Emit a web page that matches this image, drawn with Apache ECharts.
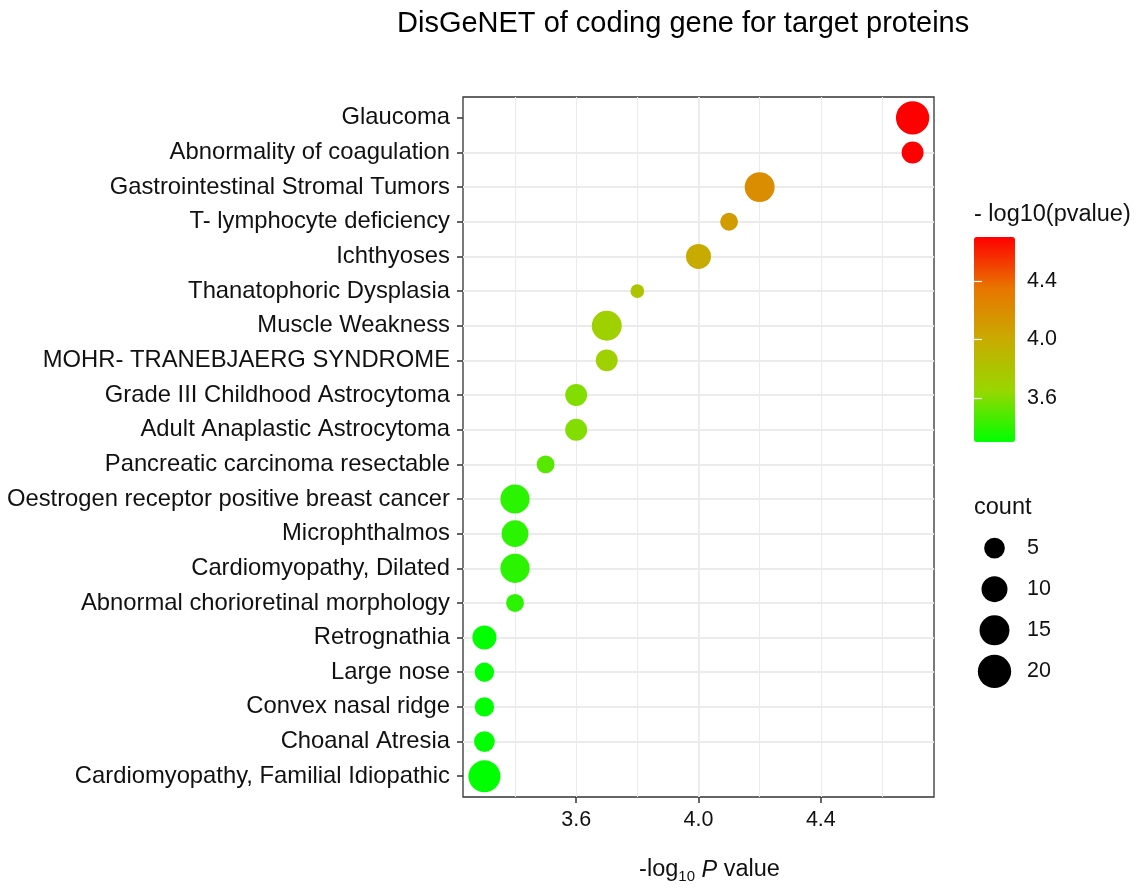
<!DOCTYPE html>
<html>
<head>
<meta charset="utf-8">
<title>DisGeNET of coding gene for target proteins</title>
<script src="https://cdn.jsdelivr.net/npm/echarts@6/dist/echarts.min.js"></script>
<style>
  html, body { margin: 0; padding: 0; background: #fff; }
  #chart { width: 1141px; height: 894px; }
</style>
</head>
<body>
<div id="chart"></div>
<script>
var diseases = [
  'Glaucoma',
  'Abnormality of coagulation',
  'Gastrointestinal Stromal Tumors',
  'T- lymphocyte deficiency',
  'Ichthyoses',
  'Thanatophoric Dysplasia',
  'Muscle Weakness',
  'MOHR- TRANEBJAERG SYNDROME',
  'Grade III Childhood Astrocytoma',
  'Adult Anaplastic Astrocytoma',
  'Pancreatic carcinoma resectable',
  'Oestrogen receptor positive breast cancer',
  'Microphthalmos',
  'Cardiomyopathy, Dilated',
  'Abnormal chorioretinal morphology',
  'Retrognathia',
  'Large nose',
  'Convex nasal ridge',
  'Choanal Atresia',
  'Cardiomyopathy, Familial Idiopathic'
];
var logP = [4.7, 4.7, 4.2, 4.1, 4.0, 3.8, 3.7, 3.7, 3.6, 3.6,
            3.5, 3.4, 3.4, 3.4, 3.4, 3.3, 3.3, 3.3, 3.3, 3.3];
var counts = [20, 6, 15, 3, 9, 1, 15, 6, 6, 6,
              3, 14, 11, 14, 3, 8, 4, 4, 5, 18];
var xTicks = [3.6, 4.0, 4.4];
var colorTicks = [3.6, 4.0, 4.4];
var countBreaks = [5, 10, 15, 20];

var FONT = '"Liberation Sans", Arial, Helvetica, sans-serif';
var TEXT = '#111';
var GRIDLINE = '#EBEBEB';

// area-like size scale: diameter grows with sqrt(count)
function dotSize(c) {
  return 8.1 + 5.64 * Math.sqrt(c);
}

var rowIdx = diseases.map(function (d, i) { return i; });

var chart = echarts.init(document.getElementById('chart'));

chart.setOption({
  animation: false,
  backgroundColor: '#fff',
  textStyle: { fontFamily: FONT },
  title: [
    {
      text: 'DisGeNET of coding gene for target proteins',
      left: 397, top: 9, padding: 0,
      textStyle: { fontFamily: FONT, fontSize: 29, fontWeight: 'normal', color: '#000' }
    },
    {
      text: '- log10(pvalue)',
      left: 974, top: 203, padding: 0,
      textStyle: { fontFamily: FONT, fontSize: 23.5, fontWeight: 'normal', color: TEXT }
    },
    {
      text: 'count',
      left: 974, top: 496, padding: 0,
      textStyle: { fontFamily: FONT, fontSize: 23.5, fontWeight: 'normal', color: TEXT }
    }
  ],
  grid: [
    { left: 463, top: 97, width: 471, height: 700, show: true,
      borderColor: '#333', borderWidth: 1.3, backgroundColor: 'transparent' },
    { left: 974, top: 237, width: 41, height: 205 },
    { left: 974, top: 527.5, width: 41, height: 164.5 }
  ],
  visualMap: {
    type: 'continuous',
    min: 3.3,
    max: 4.7,
    dimension: 0,
    seriesIndex: 0,
    calculable: false,
    hoverLink: false,
    orient: 'vertical',
    left: 974,
    top: 237,
    padding: 0,
    itemWidth: 41,
    itemHeight: 205,
    text: null,
    inRange: { color: ['#00FF00', '#98D700', '#C8AB00', '#E87600', '#FF0000'] }
  },
  xAxis: [
    {
      gridIndex: 0, type: 'value', min: 3.23, max: 4.77, splitNumber: 8,
      axisLine: { show: false }, axisTick: { show: false }, axisLabel: { show: false },
      splitLine: { show: true, showMinLine: false, showMaxLine: false,
        lineStyle: { color: GRIDLINE, width: 1.1 } }
    },
    {
      gridIndex: 0, type: 'value', min: 3.23, max: 4.77, position: 'bottom',
      axisLine: { show: false },
      axisTick: { show: true, customValues: xTicks, length: 6,
        lineStyle: { color: '#333', width: 1.5 } },
      axisLabel: { customValues: xTicks, fontSize: 21.5, color: TEXT, margin: 12,
        formatter: function (v) { return v.toFixed(1); } },
      splitLine: { show: true, showMinLine: false, showMaxLine: false,
        lineStyle: { color: GRIDLINE, width: 1.8 } },
      name: '{t|-log}{s|10}{t| }{i|P}{t| value}',
      nameLocation: 'middle',
      nameGap: 59,
      nameTextStyle: {
        fontFamily: FONT, color: TEXT, fontSize: 23.5,
        padding: [0, 0, 0, 22],
        rich: {
          t: { fontFamily: FONT, fontSize: 23.5, color: TEXT, lineHeight: 28 },
          s: { fontFamily: FONT, fontSize: 15, color: TEXT, lineHeight: 15, verticalAlign: 'bottom' },
          i: { fontFamily: FONT, fontSize: 23.5, color: TEXT, fontStyle: 'italic', lineHeight: 28 }
        }
      }
    },
    { gridIndex: 1, type: 'value', show: false, min: 0, max: 1 },
    { gridIndex: 2, type: 'value', show: false, min: 0, max: 1 }
  ],
  yAxis: [
    {
      gridIndex: 0, type: 'value', min: -0.6, max: 19.6, inverse: true, splitNumber: 20,
      axisLine: { show: false },
      axisTick: { show: true, customValues: rowIdx, length: 6,
        lineStyle: { color: '#333', width: 1.5 } },
      axisLabel: { customValues: rowIdx, fontSize: 23.8, color: TEXT, margin: 13,
        padding: [4, 0, 0, 0],
        formatter: function (v) { return diseases[Math.round(v)]; } },
      splitLine: { show: true, showMinLine: false, showMaxLine: false,
        lineStyle: { color: GRIDLINE, width: 1.8 } }
    },
    {
      gridIndex: 1, type: 'value', min: 3.3, max: 4.7, position: 'right', z: 10,
      axisLine: { show: false },
      axisTick: { show: true, inside: true, customValues: colorTicks, length: 8,
        lineStyle: { color: '#fff', width: 1.2 } },
      axisLabel: { customValues: colorTicks, fontSize: 21.5, color: TEXT, margin: 12,
        formatter: function (v) { return v.toFixed(1); } },
      splitLine: { show: false }
    },
    {
      gridIndex: 1, type: 'value', min: 3.3, max: 4.7, position: 'left', z: 10,
      axisLine: { show: false },
      axisTick: { show: true, inside: true, customValues: colorTicks, length: 8,
        lineStyle: { color: '#fff', width: 1.2 } },
      axisLabel: { show: false },
      splitLine: { show: false }
    },
    {
      gridIndex: 2, type: 'category', inverse: true, position: 'right',
      data: countBreaks.map(String),
      axisLine: { show: false }, axisTick: { show: false }, splitLine: { show: false },
      axisLabel: { fontSize: 21.5, color: TEXT, margin: 12, align: 'left' }
    }
  ],
  series: [
    {
      type: 'scatter',
      xAxisIndex: 0,
      yAxisIndex: 0,
      data: diseases.map(function (d, i) { return [logP[i], i, counts[i], d]; }),
      symbolSize: function (v) { return dotSize(v[2]); },
      itemStyle: { opacity: 1 },
      emphasis: { disabled: true }
    },
    {
      type: 'scatter',
      xAxisIndex: 3,
      yAxisIndex: 3,
      data: countBreaks.map(function (c, i) { return [0.5, i, c]; }),
      symbolSize: function (v) { return dotSize(v[2]); },
      itemStyle: { color: '#000', opacity: 1 },
      emphasis: { disabled: true }
    }
  ]
});

window.addEventListener('resize', function () {
  chart.resize();
});
</script>
</body>
</html>
